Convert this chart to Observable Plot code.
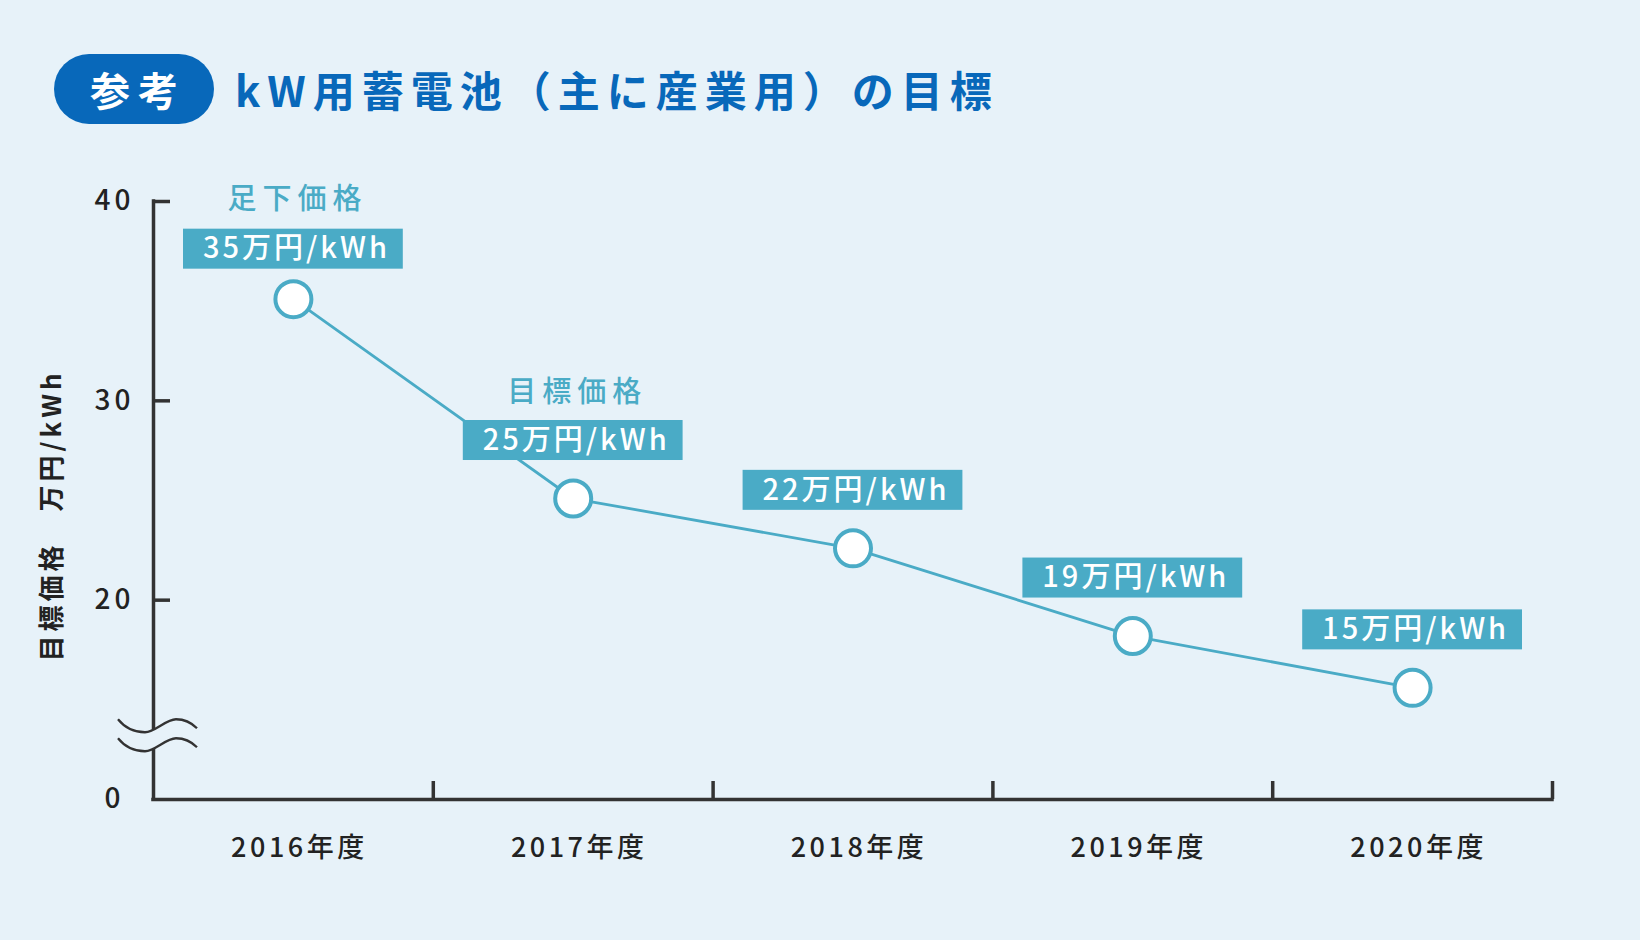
<!DOCTYPE html>
<html lang="ja">
<head>
<meta charset="utf-8">
<script src="https://cdn.jsdelivr.net/npm/d3@7"></script>
<script src="https://cdn.jsdelivr.net/npm/@observablehq/plot@0.6"></script>
<style>
  html, body { margin: 0; padding: 0; background: #e7f2f9; }
  body { width: 1640px; height: 940px; overflow: hidden; font-family: "Noto Sans CJK JP", "Noto Sans", sans-serif; }
  #header { position: relative; height: 160px; }
  .badge {
    position: absolute; left: 54px; top: 54px; width: 160px; height: 70px;
    border-radius: 35px; background: #0868ba; color: #fff;
    font-size: 40px; font-weight: 700; line-height: 70px; text-align: center;
    letter-spacing: 8px; text-indent: 8px; box-sizing: border-box;
  }
  .title {
    position: absolute; left: 235px; top: 54px; height: 70px; line-height: 70px;
    color: #0868ba; font-size: 42px; font-weight: 700; letter-spacing: 7px; white-space: nowrap;
  }
  #chart svg { display: block; }
</style>
</head>
<body>
<div id="header">
  <div class="badge">参考</div>
  <div class="title">kW用蓄電池（主に産業用）の目標</div>
</div>
<div id="chart"></div>
<script>
// ---- data ----
const years = ["2016年度", "2017年度", "2018年度", "2019年度", "2020年度"];
const prices = [35.1, 25.1, 22.6, 18.2, 15.6];
const priceLabels = ["35万円/kWh", "25万円/kWh", "22万円/kWh", "19万円/kWh", "15万円/kWh"];
const notes = ["足下価格", "目標価格", "", "", ""];
const yTicks = [10, 20, 30, 40];
const yTickLabels = ["0", "20", "30", "40"];
const yTitle = "目標価格\u3000万円/kWh";
const breakValue = 13.7; // axis break location (value axis is cut between 0 and 20)

const rows = years.map((year, i) => ({
  i, year, price: prices[i], label: priceLabels[i], note: notes[i]
}));

const teal = "#4aabc6";
const ink = "#333333";
const bg = "#e7f2f9";
const font = "Noto Sans CJK JP";

const breakMark = (index, scales) => {
  const g = d3.create("svg:g").attr("aria-label", "axis-break");
  const x0 = scales.x(-0.5);
  const y0 = scales.y(breakValue);
  const gap = 19;
  const wave = (dy) =>
    `M${x0 - 35},${y0 - 6 + dy} C${x0 - 27},${y0 + 4 + dy} ${x0 - 16},${y0 + 7 + dy} ${x0 - 8},${y0 + 7 + dy} ` +
    `C${x0 + 2},${y0 + 7 + dy} ${x0 + 13},${y0 - 6 + dy} ${x0 + 23},${y0 - 6 + dy} ` +
    `C${x0 + 31},${y0 - 6 + dy} ${x0 + 39},${y0 - 2 + dy} ${x0 + 44},${y0 + 3 + dy}`;
  const waveRev = (dy) =>
    `L${x0 + 44},${y0 + 3 + dy} C${x0 + 39},${y0 - 2 + dy} ${x0 + 31},${y0 - 6 + dy} ${x0 + 23},${y0 - 6 + dy} ` +
    `C${x0 + 13},${y0 - 6 + dy} ${x0 + 2},${y0 + 7 + dy} ${x0 - 8},${y0 + 7 + dy} ` +
    `C${x0 - 16},${y0 + 7 + dy} ${x0 - 27},${y0 + 4 + dy} ${x0 - 35},${y0 - 6 + dy} Z`;
  g.append("path").attr("d", wave(0) + " " + waveRev(gap)).attr("fill", bg).attr("stroke", "none");
  g.append("path").attr("d", wave(0)).attr("fill", "none").attr("stroke", ink).attr("stroke-width", 2.3);
  g.append("path").attr("d", wave(gap)).attr("fill", "none").attr("stroke", ink).attr("stroke-width", 2.3);
  return g.node();
};

const plot = Plot.plot({
  width: 1640,
  height: 780,
  marginTop: 41,
  marginBottom: 141,
  marginLeft: 153,
  marginRight: 88,
  style: { background: "transparent", fontFamily: font, overflow: "visible" },
  x: { type: "linear", domain: [-0.5, years.length - 0.5], axis: null },
  y: { domain: [10, 40], axis: null },
  marks: [
    // axis lines
    Plot.ruleX([-0.5], { stroke: ink, strokeWidth: 3.5, strokeLinecap: "square" }),
    Plot.ruleY([10], { stroke: ink, strokeWidth: 3.5, strokeLinecap: "square" }),
    // inward ticks
    Plot.axisY(yTicks.filter(t => t > 10), {
      anchor: "left", tickSize: 17, dx: 17, tickFormat: () => "", stroke: ink, strokeWidth: 3.5, label: null
    }),
    Plot.axisX(years.map((_, i) => i + 0.5), {
      anchor: "bottom", tickSize: 18, dy: -18, tickFormat: () => "", stroke: ink, strokeWidth: 3.5, label: null
    }),
    // tick labels
    Plot.axisY(yTicks, {
      anchor: "left", tickSize: 0, tickPadding: 39, textAnchor: "middle",
      tickFormat: d => yTickLabels[yTicks.indexOf(d)],
      fontSize: 28, fontWeight: 500, fill: "#222", label: null
    }),
    Plot.axisX(years.map((_, i) => i), {
      anchor: "bottom", tickSize: 0, tickPadding: 38,
      tickFormat: i => years[i], fontSize: 27, fontWeight: 500, fill: "#222", dx: 6,
      label: null
    }),
    // y title
    Plot.text([yTitle], {
      frameAnchor: "left", textAnchor: "middle", text: d => d, rotate: -90, dx: -101, dy: 15,
      fontSize: 26, fontWeight: 700, fill: "#222"
    }),
    // axis break
    breakMark,
    // series line
    Plot.line(rows, { x: "i", y: "price", stroke: teal, strokeWidth: 2.8 }),
    // label boxes
    Plot.rect(rows.filter(d => d.i === 0), {
      x1: d => d.i - 0.5, x2: d => d.i + 0.5, y1: "price", y2: "price",
      insetLeft: 30, insetRight: 30, insetTop: -20, insetBottom: -20, dy: -50, fill: teal
    }),
    Plot.rect(rows.filter(d => d.i > 0), {
      x1: d => d.i - 0.5, x2: d => d.i + 0.5, y1: "price", y2: "price",
      insetLeft: 30, insetRight: 30, insetTop: -20, insetBottom: -20, dy: -58, fill: teal
    }),
    Plot.text(rows.filter(d => d.i === 0), {
      x: "i", y: "price", text: "label", dy: -50, dx: 3, fill: "#fff",
      fontSize: 29, fontWeight: 500
    }),
    Plot.text(rows.filter(d => d.i > 0), {
      x: "i", y: "price", text: "label", dy: -58, dx: 3, fill: "#fff",
      fontSize: 29, fontWeight: 500
    }),
    // points
    Plot.dot(rows, { x: "i", y: "price", r: 18, fill: "#fff", stroke: teal, strokeWidth: 4 }),
    // notes
    Plot.text(rows.filter(d => d.i === 0), {
      x: "i", y: "price", text: "note", dy: -99, dx: 4, fill: teal, fontSize: 29, fontWeight: 500
    }),
    Plot.text(rows.filter(d => d.i === 1), {
      x: "i", y: "price", text: "note", dy: -106, dx: 4, fill: teal, fontSize: 29, fontWeight: 500
    })
  ]
});

// letter spacing, as in the reference typography
d3.select(plot).selectAll("text").each(function () {
  const t = this.textContent;
  let ls = null;
  if (priceLabels.includes(t)) ls = "3px";
  else if (notes.includes(t) && t) ls = "6px";
  else if (years.includes(t)) ls = "3.5px";
  else if (yTickLabels.includes(t)) ls = "4px";
  else if (t === yTitle) ls = "4px";
  if (ls) d3.select(this).style("letter-spacing", ls);
});

document.getElementById("chart").appendChild(plot);
</script>
</body>
</html>
